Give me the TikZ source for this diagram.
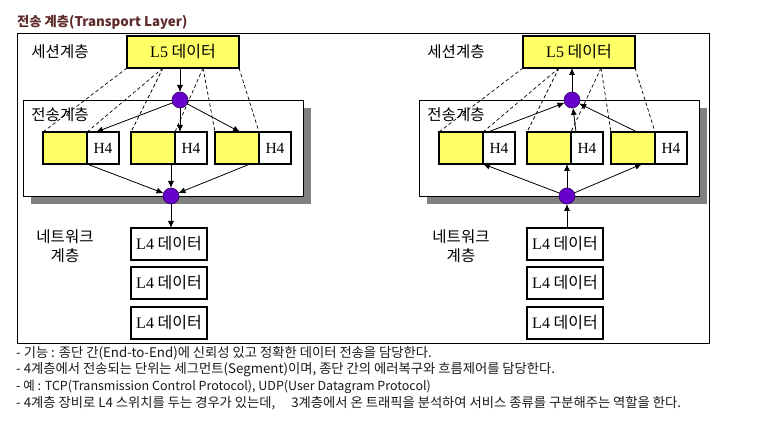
\documentclass[tikz,border=0pt]{standalone}
\usepackage{fontspec}
\setmainfont{Noto Sans CJK KR}
\newfontfamily\serf{Liberation Serif}
\usetikzlibrary{arrows.meta}
\definecolor{yel}{HTML}{FFFF66}
\definecolor{purp}{HTML}{6600CC}
\definecolor{purpd}{HTML}{330066}
\definecolor{titlec}{HTML}{5E2A2A}
\definecolor{shadowc}{HTML}{808080}
\tikzset{
  ybox/.style={draw=black, line width=2.5pt, fill=yel, minimum width=44, minimum height=32, inner sep=0pt, outer sep=0pt},
  hbox/.style={draw=black, line width=2.5pt, fill=white, minimum width=32, minimum height=32, inner sep=0pt, outer sep=0pt, anchor=west, font=\serf\fontsize{15.5}{17}\selectfont},
  l5box/.style={draw=black, line width=2.5pt, fill=yel, minimum width=112, minimum height=32, inner sep=0pt, outer sep=0pt, font=\fontsize{16}{18}\selectfont},
  l4box/.style={draw=black, line width=2.5pt, fill=white, minimum width=76, minimum height=32, inner sep=0pt, outer sep=0pt, font=\fontsize{16}{18}\selectfont},
  tbox/.style={draw=black, line width=0.9pt, fill=white, minimum width=280, minimum height=96, inner sep=0pt, outer sep=0pt},
  dot/.style={circle, draw=purpd, line width=0.6pt, fill=purp, minimum size=16, inner sep=0pt, outer sep=0pt},
  lab/.style={font=\fontsize{15.5}{19}\selectfont, inner sep=0pt, align=center},
  txt/.style={font=\fontsize{13.3}{15}\selectfont, anchor=west, inner sep=0pt, text=black!90},
  arr/.style={-{Latex[length=7pt,width=6pt]}, line width=0.8pt},
  dsh/.style={dash pattern=on 3.5pt off 2.5pt, line width=0.7pt},
}
\begin{document}
\begin{tikzpicture}[x=1pt, y=-1pt]
\useasboundingbox (0,0) rectangle (760,438);
\node[font=\bfseries\fontsize{13.3}{15}\selectfont, text=titlec, anchor=west, inner sep=0pt] (title) at (17,22) {전송 계층(Transport Layer)};
\node[draw=black, line width=0.9pt, minimum width=692, minimum height=310, inner sep=0pt] (outer) at (363,188) {};

% ---------- left diagram ----------
\node[tbox] (Ta) at (163,148) {};
\fill[shadowc] ([xshift=8,yshift=-8]Ta.north east) rectangle ([xshift=-0.45]Ta.south east);
\fill[shadowc] ([xshift=8,yshift=0.45]Ta.south west) rectangle ([xshift=8,yshift=-8]Ta.south east);
\node[tbox] at (Ta) {};
\node[lab] (sessa) at (60,52) {세션계층};
\node[lab] (transa) at (60,115) {전송계층};
\node[lab] (neta) at (65,246) {네트워크\\계층};
\node[l5box] (L5a) at (183,52) {{\serf L5} 데이터};
\node[dot] (c1a) at (180,100) {};
\node[ybox] (s1ya) at (65,148) {};
\node[hbox] (s1ha) at (s1ya.east) {H4};
\node[ybox] (s2ya) at (153,148) {};
\node[hbox] (s2ha) at (s2ya.east) {H4};
\node[ybox] (s3ya) at (237,148) {};
\node[hbox] (s3ha) at (s3ya.east) {H4};
\node[dot] (c2a) at (171,196) {};
\node[l4box] (L4a1) at (169,244) {{\serf L4} 데이터};
\node[l4box] (L4a2) at (169,283) {{\serf L4} 데이터};
\node[l4box] (L4a3) at (169,323) {{\serf L4} 데이터};
\draw[dsh] (L5a.south west) -- (s1ya.north west);
\draw[dsh] ([xshift=36]L5a.south west) -- (s1ya.north east);
\draw[dsh] ([xshift=36]L5a.south west) -- (s2ya.north west);
\draw[dsh] ([xshift=76]L5a.south west) -- (s2ya.north east);
\draw[dsh] ([xshift=76]L5a.south west) -- (s3ya.north west);
\draw[dsh] (L5a.south east) -- (s3ya.north east);
\draw[arr] (L5a.south -| c1a) -- (c1a);
\draw[arr] (c1a) -- ([xshift=9]s1ha.north west);
\draw[arr] (c1a) -- ([xshift=5]s2ha.north west);
\draw[arr] (c1a) -- ([xshift=25]s3ya.north west);
\draw[arr] (s1ha.south west) -- (c2a);
\draw[arr] (s2ya.south -| c2a) -- (c2a);
\draw[arr] ([xshift=-9]s3ya.south east) -- (c2a);
\draw[arr] (c2a) -- (c2a |- L4a1.north);

% ---------- right diagram ----------
\node[tbox] (Tb) at (559,148) {};
\fill[shadowc] ([xshift=8,yshift=-8]Tb.north east) rectangle ([xshift=-0.45]Tb.south east);
\fill[shadowc] ([xshift=8,yshift=0.45]Tb.south west) rectangle ([xshift=8,yshift=-8]Tb.south east);
\node[tbox] at (Tb) {};
\node[lab] (sessb) at (456,52) {세션계층};
\node[lab] (transb) at (456,115) {전송계층};
\node[lab] (netb) at (461,246) {네트워크\\계층};
\node[l5box] (L5b) at (579,52) {{\serf L5} 데이터};
\node[dot] (c1b) at (572,100) {};
\node[ybox] (s1yb) at (461,148) {};
\node[hbox] (s1hb) at (s1yb.east) {H4};
\node[ybox] (s2yb) at (549,148) {};
\node[hbox] (s2hb) at (s2yb.east) {H4};
\node[ybox] (s3yb) at (633,148) {};
\node[hbox] (s3hb) at (s3yb.east) {H4};
\node[dot] (c2b) at (567,196) {};
\node[l4box] (L4b1) at (565,244) {{\serf L4} 데이터};
\node[l4box] (L4b2) at (565,283) {{\serf L4} 데이터};
\node[l4box] (L4b3) at (565,323) {{\serf L4} 데이터};
\draw[dsh] (L5b.south west) -- (s1yb.north west);
\draw[dsh] ([xshift=36]L5b.south west) -- (s1yb.north east);
\draw[dsh] ([xshift=36]L5b.south west) -- (s2yb.north west);
\draw[dsh] ([xshift=78]L5b.south west) -- (s2yb.north east);
\draw[dsh] ([xshift=78]L5b.south west) -- (s3yb.north west);
\draw[dsh] (L5b.south east) -- (s3yb.north east);
\draw[arr] (c1b) -- (L5b.south -| c1b);
\draw[arr] ([xshift=5]s1hb.north west) -- (c1b);
\draw[arr] ([xshift=5]s2hb.north west) -- (c1b);
\draw[arr] ([xshift=-18]s3yb.north east) -- (c1b);
\draw[arr] (c2b) -- (s1yb.south east);
\draw[arr] (c2b) -- (s2yb.south -| c2b);
\draw[arr] (c2b) -- ([xshift=-13]s3yb.south east);
\draw[arr] (c2b |- L4b1.north) -- (c2b);

% ---------- notes ----------
\node[txt] (n1) at (16,353) {- 기능 : 종단 간(End-to-End)에 신뢰성 있고 정확한 데이터 전송을 담당한다.};
\node[txt] (n2) at (16,370) {- 4계층에서 전송되는 단위는 세그먼트(Segment)이며, 종단 간의 에러복구와 흐름제어를 담당한다.};
\node[txt, font=\fontsize{12.5}{15}\selectfont] (n3) at (16,387) {- 예 : TCP(Transmission Control Protocol), UDP(User Datagram Protocol)};
\node[txt] (n4) at (16,403) {- 4계층 장비로 L4 스위치를 두는 경우가 있는데,\hspace{1.2em}3계층에서 온 트래픽을 분석하여 서비스 종류를 구분해주는 역할을 한다.};
\end{tikzpicture}
\end{document}
